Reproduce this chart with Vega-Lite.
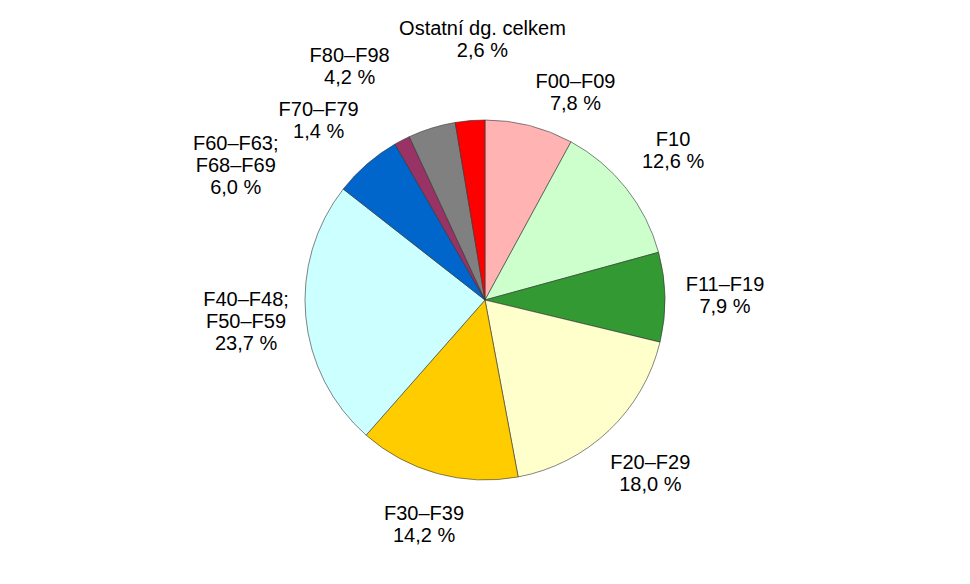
{
  "$schema": "https://vega.github.io/schema/vega-lite/v6.json",
  "width": 970,
  "height": 584,
  "autosize": {"type": "fit", "contains": "padding"},
  "padding": {"top": 16, "bottom": 0, "left": 0, "right": 0},
  "background": "white",
  "config": {"view": {"stroke": null}, "text": {"lineBreak": "\n"}},
  "data": {
    "values": [
      {"cat": "F00–F09", "label": "F00–F09\n7,8 %", "value": 7.8, "order": 1},
      {"cat": "F10", "label": "F10\n12,6 %", "value": 12.6, "order": 2},
      {"cat": "F11–F19", "label": "F11–F19\n7,9 %", "value": 7.9, "order": 3},
      {"cat": "F20–F29", "label": "F20–F29\n18,0 %", "value": 18.0, "order": 4},
      {"cat": "F30–F39", "label": "F30–F39\n14,2 %", "value": 14.2, "order": 5},
      {"cat": "F40–F48; F50–F59", "label": "F40–F48;\nF50–F59\n23,7 %", "value": 23.7, "order": 6},
      {"cat": "F60–F63; F68–F69", "label": "F60–F63;\nF68–F69\n6,0 %", "value": 6.0, "order": 7},
      {"cat": "F70–F79", "label": "F70–F79\n1,4 %", "value": 1.4, "order": 8},
      {"cat": "F80–F98", "label": "F80–F98\n4,2 %", "value": 4.2, "order": 9},
      {"cat": "Ostatní dg. celkem", "label": "Ostatní dg. celkem\n2,6 %", "value": 2.6, "order": 10}
    ]
  },
  "encoding": {
    "theta": {"field": "value", "type": "quantitative", "stack": true},
    "order": {"field": "order", "type": "quantitative"}
  },
  "layer": [
    {
      "mark": {"type": "arc", "outerRadius": 180, "stroke": "#333333", "strokeWidth": 0.6},
      "encoding": {
        "color": {
          "field": "cat",
          "type": "nominal",
          "legend": null,
          "scale": {
            "domain": ["F00–F09", "F10", "F11–F19", "F20–F29", "F30–F39", "F40–F48; F50–F59", "F60–F63; F68–F69", "F70–F79", "F80–F98", "Ostatní dg. celkem"],
            "range": ["#FFB3B3", "#CCFFCC", "#339933", "#FFFFCC", "#FFCC00", "#CCFFFF", "#0066CC", "#993366", "#808080", "#FF0000"]
          }
        }
      }
    },
    {
      "mark": {"type": "text", "radius": 240, "dy": -11, "align": "center", "baseline": "middle", "font": "Liberation Sans", "fontSize": 20, "fill": "black", "lineBreak": "\n"},
      "encoding": {
        "detail": {"field": "cat"},
        "text": {"condition": {"test": "indexof(['F10','F11–F19','F20–F29'], datum.cat) >= 0", "field": "label"}, "value": ""}
      }
    },
    {
      "mark": {"type": "text", "radius": 240, "dy": -22, "align": "center", "baseline": "middle", "font": "Liberation Sans", "fontSize": 20, "fill": "black", "lineBreak": "\n"},
      "encoding": {
        "detail": {"field": "cat"},
        "text": {"condition": {"test": "datum.cat === 'F40–F48; F50–F59'", "field": "label"}, "value": ""}
      }
    },
    {
      "mark": {"type": "text", "radius": 225, "dx": 35, "align": "center", "baseline": "middle", "font": "Liberation Sans", "fontSize": 20, "fill": "black", "lineBreak": "\n"},
      "encoding": {
        "detail": {"field": "cat"},
        "text": {"condition": {"test": "datum.cat === 'F00–F09'", "field": "label"}, "value": ""}
      }
    },
    {
      "mark": {"type": "text", "radius": 272, "dx": 20, "align": "center", "baseline": "middle", "font": "Liberation Sans", "fontSize": 20, "fill": "black", "lineBreak": "\n"},
      "encoding": {
        "detail": {"field": "cat"},
        "text": {"condition": {"test": "datum.cat === 'Ostatní dg. celkem'", "field": "label"}, "value": ""}
      }
    },
    {
      "mark": {"type": "text", "radius": 255, "dx": -60, "align": "center", "baseline": "middle", "font": "Liberation Sans", "fontSize": 20, "fill": "black", "lineBreak": "\n"},
      "encoding": {
        "detail": {"field": "cat"},
        "text": {"condition": {"test": "datum.cat === 'F80–F98'", "field": "label"}, "value": ""}
      }
    },
    {
      "mark": {"type": "text", "radius": 220, "dx": -65, "dy": 5, "align": "center", "baseline": "middle", "font": "Liberation Sans", "fontSize": 20, "fill": "black", "lineBreak": "\n"},
      "encoding": {
        "detail": {"field": "cat"},
        "text": {"condition": {"test": "datum.cat === 'F70–F79'", "field": "label"}, "value": ""}
      }
    },
    {
      "mark": {"type": "text", "radius": 220, "dx": -105, "dy": 10, "align": "center", "baseline": "middle", "font": "Liberation Sans", "fontSize": 20, "fill": "black", "lineBreak": "\n"},
      "encoding": {
        "detail": {"field": "cat"},
        "text": {"condition": {"test": "datum.cat === 'F60–F63; F68–F69'", "field": "label"}, "value": ""}
      }
    },
    {
      "mark": {"type": "text", "radius": 230, "dy": -8, "align": "center", "baseline": "middle", "font": "Liberation Sans", "fontSize": 20, "fill": "black", "lineBreak": "\n"},
      "encoding": {
        "detail": {"field": "cat"},
        "text": {"condition": {"test": "datum.cat === 'F30–F39'", "field": "label"}, "value": ""}
      }
    }
  ]
}
